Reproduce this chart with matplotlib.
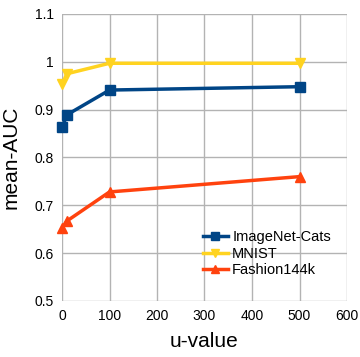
import matplotlib
matplotlib.use("Agg")
import matplotlib.pyplot as plt

u_values = [1, 10, 100, 500]
imagenet_cats = [0.864, 0.889, 0.941, 0.948]
mnist = [0.954, 0.975, 0.997, 0.997]
fashion144k = [0.653, 0.667, 0.728, 0.760]
series_names = ["ImageNet-Cats", "MNIST", "Fashion144k"]
xticks = [0, 100, 200, 300, 400, 500, 600]
yticks = [0.5, 0.6, 0.7, 0.8, 0.9, 1.0, 1.1]
ytick_labels = ["0.5", "0.6", "0.7", "0.8", "0.9", "1", "1.1"]

plt.rcParams['font.family'] = ['Liberation Sans', 'DejaVu Sans']

fig = plt.figure(figsize=(3.6, 3.57), dpi=100)
ax = fig.add_axes([62/360, 56/357, 285/360, 287/357])

ax.plot(u_values, imagenet_cats, color='#004586', marker='s', markersize=7, lw=2.5, label=series_names[0], clip_on=False, zorder=3)
ax.plot(u_values, mnist, color='#ffd320', marker='v', markersize=7, lw=2.5, label=series_names[1], clip_on=False, zorder=3)
ax.plot(u_values, fashion144k, color='#ff420e', marker='^', markersize=7, lw=2.5, label=series_names[2], clip_on=False, zorder=3)

ax.set_xlim(0, 600)
ax.set_ylim(0.5, 1.1)
ax.set_xticks(xticks)
ax.set_yticks(yticks)
ax.set_yticklabels(ytick_labels)
ax.grid(True, color='#b3b3b3', lw=1)
ax.set_axisbelow(True)
for s in ax.spines.values():
    s.set_visible(False)
ax.tick_params(length=0, labelsize=10, pad=6, colors='black')
ax.set_xlabel("u-value", fontsize=15, labelpad=6)
ax.set_ylabel("mean-AUC", fontsize=15, labelpad=10)

leg = ax.legend(loc='upper left', bbox_to_anchor=((203-62)/285, (301-230)/287), frameon=False, fontsize=10.5,
                handlelength=1.7, labelspacing=0.18, handletextpad=0.3, borderaxespad=0, borderpad=0)
for h in leg.legend_handles:
    h.set_markersize(6)

fig.savefig("out.png", dpi=100)
